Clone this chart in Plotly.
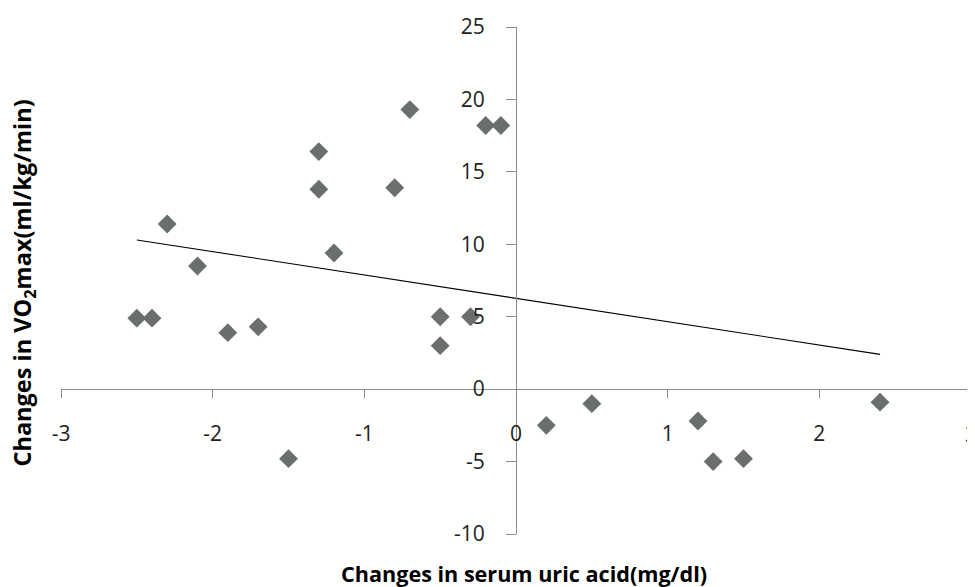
import plotly.graph_objects as go

# Data
uric_acid_change = [-2.5, -2.4, -2.3, -2.1, -1.9, -1.7, -1.5, -1.3, -1.3, -1.2, -0.8, -0.7,
                    -0.5, -0.5, -0.3, -0.2, -0.1, 0.2, 0.5, 1.2, 1.3, 1.5, 2.4]
vo2max_change = [4.9, 4.9, 11.4, 8.5, 3.9, 4.3, -4.8, 16.4, 13.8, 9.4, 13.9, 19.3,
                 5.0, 3.0, 5.0, 18.2, 18.2, -2.5, -1.0, -2.2, -5.0, -4.8, -0.9]

# Trendline as drawn in the reference (end points)
trend_x = [-2.5, 2.4]
trend_y = [10.3, 2.4]

x_ticks = [-3, -2, -1, 0, 1, 2, 3]
y_ticks = [-10, -5, 0, 5, 10, 15, 20, 25]

x_title = "Changes in serum uric acid(mg/dl)"
y_title = "Changes in VO<sub>2</sub>max(ml/kg/min)"

FONT = "Open Sans"
AXIS_COLOR = "#8c8c8c"
TEXT_COLOR = "#222222"

fig = go.Figure()
fig.add_trace(go.Scatter(
    x=uric_acid_change, y=vo2max_change, mode="markers",
    marker=dict(symbol="diamond", size=14.5, color="#6b6e6e", line=dict(width=0)),
    showlegend=False, hoverinfo="x+y"))
fig.add_trace(go.Scatter(
    x=trend_x, y=trend_y, mode="lines",
    line=dict(color="#000000", width=1.1), showlegend=False, hoverinfo="skip"))

x_min, x_max = -3, 3
y_min, y_max = -10, 25

fig.update_layout(
    width=967, height=579,
    margin=dict(l=53, r=4, t=17, b=53),
    paper_bgcolor="white", plot_bgcolor="white",
    font=dict(family=FONT, color=TEXT_COLOR),
    xaxis=dict(
        range=[x_min, x_max], tickvals=x_ticks, ticktext=[str(v) for v in x_ticks],
        showgrid=False, zeroline=False, showline=True, linecolor=AXIS_COLOR, linewidth=1,
        ticks="outside", ticklen=8, tickcolor=AXIS_COLOR, tickwidth=1,
        tickfont=dict(family=FONT, size=21, color=TEXT_COLOR),
        ticklabelstandoff=18,
        anchor="free", position=(0 - y_min) / (y_max - y_min),
    ),
    yaxis=dict(
        range=[y_min, y_max], tickvals=y_ticks, ticktext=[str(v) for v in y_ticks],
        showgrid=False, zeroline=False, showline=True, linecolor=AXIS_COLOR, linewidth=1,
        ticks="outside", ticklen=10, tickcolor=AXIS_COLOR, tickwidth=1,
        tickfont=dict(family=FONT, size=21, color=TEXT_COLOR),
        ticklabelstandoff=17,
        anchor="free", position=(0 - x_min) / (x_max - x_min),
    ),
    annotations=[
        dict(text="<b>" + x_title + "</b>", xref="paper", yref="paper",
             x=0.5088, y=-0.0786, xanchor="center", yanchor="middle", showarrow=False,
             font=dict(family=FONT, size=21.6, color="#000000")),
        dict(text="<b>" + y_title + "</b>", xref="paper", yref="paper",
             x=-0.0407, y=0.496, xanchor="center", yanchor="middle", showarrow=False,
             textangle=-90, font=dict(family=FONT, size=23.5, color="#000000")),
        # last x tick label, which sits on the right edge and is cut there
        dict(text=str(x_ticks[-1]), xref="x", yref="y",
             x=x_ticks[-1], y=-3.1, xanchor="center", yanchor="middle", showarrow=False,
             font=dict(family=FONT, size=21, color=TEXT_COLOR)),
    ],
)

fig.write_html("out.html")
